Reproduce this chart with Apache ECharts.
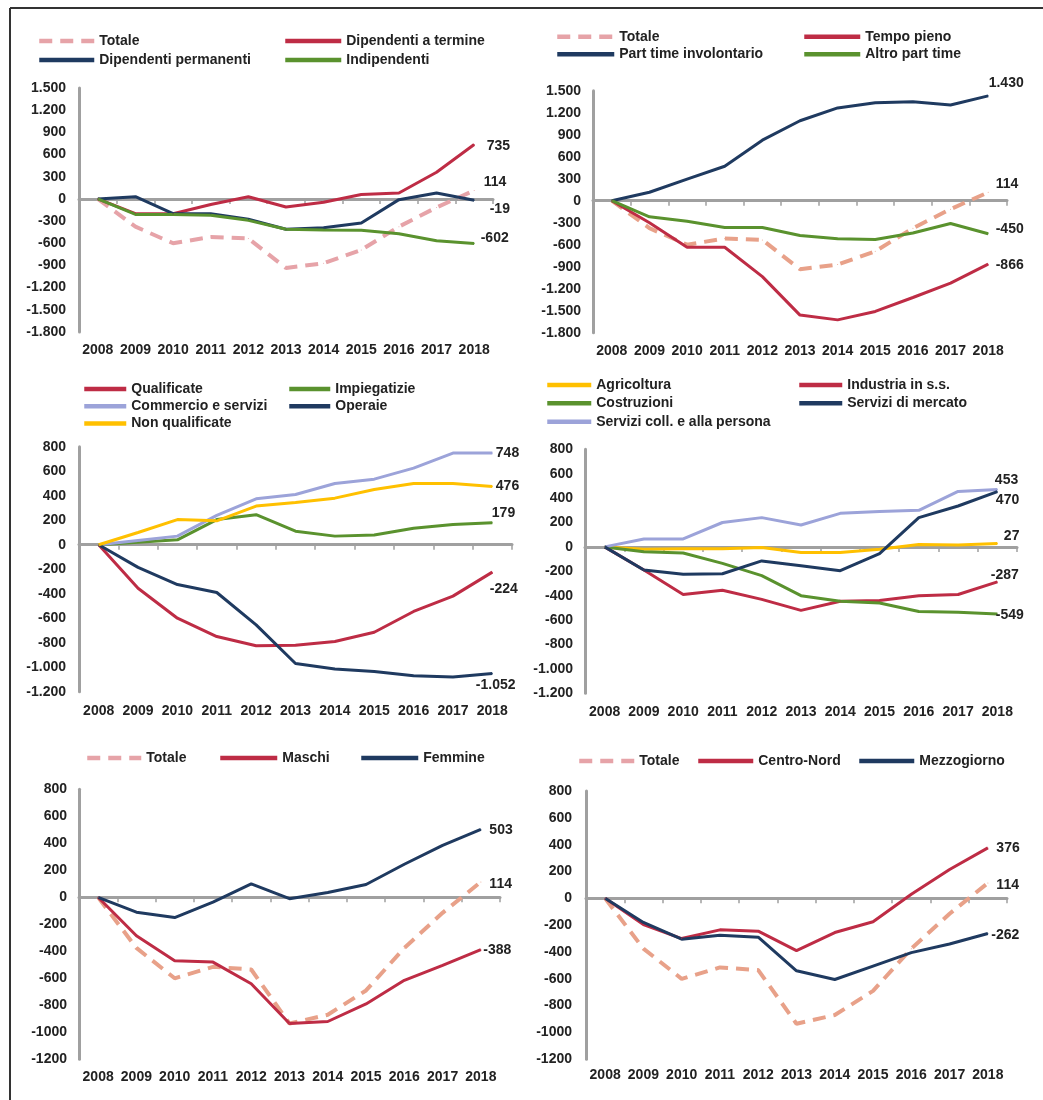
<!DOCTYPE html>
<html><head><meta charset="utf-8">
<script src="https://cdn.jsdelivr.net/npm/echarts@6/dist/echarts.min.js"></script>
<style>html,body{margin:0;padding:0;background:#fff}#c{width:1043px;height:1100px}</style>
</head><body><div id="c"></div>
<script>
// ---- data ----
const years = ['2008','2009','2010','2011','2012','2013','2014','2015','2016','2017','2018'];
const totale = [0, -375, -600, -515, -535, -935, -870, -690, -375, -115, 114];
// panel 1
const dipTermine = [0, -200, -200, -75, 30, -110, -45, 60, 80, 360, 735];
const dipPermanenti = [0, 30, -200, -200, -275, -410, -390, -325, -10, 80, -19];
const indipendenti = [0, -210, -210, -220, -290, -410, -420, -425, -470, -565, -602];
// panel 2
const tempoPieno = [0, -300, -635, -635, -1035, -1560, -1625, -1510, -1320, -1125, -866];
const partTimeInvol = [0, 115, 295, 470, 825, 1090, 1265, 1335, 1350, 1305, 1430];
const altroPartTime = [0, -220, -280, -365, -365, -475, -520, -530, -440, -310, -450];
// panel 3
const qualificate = [0, -355, -600, -750, -825, -820, -790, -715, -545, -420, -224];
const impiegatizie = [0, 20, 40, 205, 245, 110, 70, 80, 135, 165, 179];
const commercioServizi = [0, 35, 70, 240, 375, 410, 500, 535, 625, 748, 748];
const operaie = [0, -185, -325, -390, -655, -970, -1015, -1035, -1070, -1080, -1052];
const nonQualificate = [0, 100, 205, 195, 315, 345, 380, 450, 500, 500, 476];
// panel 4
const agricoltura = [0, -20, -15, -15, -5, -45, -45, -20, 20, 15, 27];
const industria = [0, -190, -390, -355, -430, -520, -445, -440, -400, -390, -287];
const costruzioni = [0, -40, -50, -135, -235, -400, -445, -460, -530, -535, -549];
const serviziMercato = [0, -190, -225, -220, -115, -155, -195, -55, 240, 335, 453];
const serviziColl = [0, 65, 65, 200, 240, 180, 275, 290, 300, 455, 470];
// panel 5
const maschi = [0, -285, -470, -480, -640, -935, -920, -790, -615, -505, -388];
const femmine = [0, -110, -150, -35, 100, -10, 35, 95, 245, 385, 503];
// panel 6
const centroNord = [0, -195, -300, -235, -245, -390, -255, -175, 30, 215, 376];
const mezzogiorno = [0, -180, -305, -275, -290, -540, -605, -505, -405, -340, -262];

// ---- styles ----
const C = {red:'#be2c45', navy:'#1f3a60', green:'#5a922e', lav:'#9ca3d9', yel:'#ffc000', salmon:'#e8a189', pink:'#e6a3a8', axis:'#a0a0a0'};
const FONT = "'Liberation Sans', Arial, sans-serif";
const TXT = {fontFamily: FONT, fontSize: 14, fontWeight: 'bold', color: '#222'};
const fmtDot = v => (v < 0 ? '-' : '') + Math.abs(v).toString().replace(/\B(?=(\d{3})+(?!\d))/g, '.');
const fmtPlain = v => String(v);

const panels = [
  {grid:{left:79, top:88, width:414, height:244}, min:-1800, max:1500, iv:300, fmt:fmtDot, ym:13, xm:11},
  {grid:{left:593, top:90.7, width:414, height:242}, min:-1800, max:1500, iv:300, fmt:fmtDot, ym:12, xm:11},
  {grid:{left:79, top:446.7, width:433, height:245}, min:-1200, max:800, iv:200, fmt:fmtDot, ym:13, xm:12},
  {grid:{left:585, top:449.3, width:432, height:244}, min:-1200, max:800, iv:200, fmt:fmtDot, ym:12, xm:12},
  {grid:{left:79, top:789.3, width:421, height:270}, min:-1200, max:800, iv:200, fmt:fmtPlain, ym:12, xm:11},
  {grid:{left:586, top:791, width:421, height:268.3}, min:-1200, max:800, iv:200, fmt:fmtPlain, ym:14, xm:9}
];

const grid = [], xAxis = [], yAxis = [], series = [], legend = [];
panels.forEach((p, i) => {
  grid.push(Object.assign({containLabel:false}, p.grid));
  xAxis.push({type:'category', data:years, gridIndex:i, position:'bottom', boundaryGap:true,
    axisLine:{show:false}, axisTick:{show:false},
    axisLabel:Object.assign({interval:0, margin:p.xm}, TXT)});
  xAxis.push({type:'category', data:years, gridIndex:i, position:'top', boundaryGap:true,
    axisLine:{show:true, onZero:true, onZeroAxisIndex:i, lineStyle:{color:C.axis, width:3}},
    axisTick:{show:true, inside:true, length:5, lineStyle:{color:C.axis, width:1.5}},
    axisLabel:{show:false}});
  yAxis.push({type:'value', gridIndex:i, min:p.min, max:p.max, interval:p.iv,
    axisLine:{show:true, lineStyle:{color:C.axis, width:3}}, axisTick:{show:false}, splitLine:{show:false},
    axisLabel:Object.assign({margin:p.ym, formatter:p.fmt}, TXT)});
});

function line(pi, name, values, color, lab, dashed) {
  const last = values.length - 1;
  const fmt = panels[pi].fmt;
  series.push({
    type:'line', name, xAxisIndex:pi*2, yAxisIndex:pi, symbol:'circle', symbolSize:1, showSymbol:true,
    lineStyle:{color, width: dashed ? 4 : 3, type: dashed ? [13, 8] : 'solid', cap:'butt'},
    itemStyle:{color}, emphasis:{disabled:true}, silent:true,
    data: values.map((v, j) => j === last ? {value:v, label:Object.assign({show:true, position:'right', distance:0,
      offset:[lab[0], lab[1]], formatter: () => fmt(v)}, TXT)} : v)
  });
}
function lg(left, top, names, w, gap, orient) {
  legend.push({left, top, orient: orient || 'vertical', padding:0, itemGap: gap || 0, itemWidth:w, itemHeight:14,
    data:names, selectedMode:false, itemStyle:{opacity:0}, lineStyle:{width:4.5},
    textStyle:Object.assign({lineHeight:14}, TXT)});
}

// panel 1
line(0, 'Totale', totale, C.pink, [9, -8], true);
line(0, 'Dipendenti a termine', dipTermine, C.red, [12, 2]);
line(0, 'Dipendenti permanenti', dipPermanenti, C.navy, [15, 9]);
line(0, 'Indipendenti', indipendenti, C.green, [6, -5]);
lg(37, 34, ['Totale', 'Dipendenti permanenti'], 55, 5);
lg(283, 34, ['Dipendenti a termine', 'Indipendenti'], 56, 5);
// panel 2
line(1, 'Totale', totale, C.salmon, [7, -8], true);
line(1, 'Tempo pieno', tempoPieno, C.red, [7, 1]);
line(1, 'Part time involontario', partTimeInvol, C.navy, [0, -13]);
line(1, 'Altro part time', altroPartTime, C.green, [7, -5]);
lg(555, 29.7, ['Totale', 'Part time involontario'], 57, 3.6);
lg(802, 29.7, ['Tempo pieno', 'Altro part time'], 56, 3.6);
// panel 3
line(2, 'Qualificate', qualificate, C.red, [-3, 17]);
line(2, 'Impiegatizie', impiegatizie, C.green, [-1, -10]);
line(2, 'Commercio e servizi', commercioServizi, C.lav, [3, 0]);
line(2, 'Operaie', operaie, C.navy, [-17, 12]);
line(2, 'Non qualificate', nonQualificate, C.yel, [3, 0]);
lg(82, 382, ['Qualificate', 'Commercio e servizi', 'Non qualificate'], 42, 3.2);
lg(287, 382, ['Impiegatizie', 'Operaie'], 41, 3.2);
// panel 4
line(3, 'Agricoltura', agricoltura, C.yel, [6, -7]);
line(3, 'Industria in s.s.', industria, C.red, [-7, -7]);
line(3, 'Costruzioni', costruzioni, C.green, [-2, 1]);
line(3, 'Servizi coll. e alla persona', serviziColl, C.lav, [-2, 11]);
line(3, 'Servizi di mercato', serviziMercato, C.navy, [-3, -11]);
lg(545, 378, ['Agricoltura', 'Costruzioni', 'Servizi coll. e alla persona'], 44, 4.35);
lg(797, 378, ['Industria in s.s.', 'Servizi di mercato'], 43, 4.35);
// panel 5
line(4, 'Totale', totale, C.salmon, [8, 2], true);
line(4, 'Maschi', maschi, C.red, [2, 0]);
line(4, 'Femmine', femmine, C.navy, [8, 1]);
lg(85, 751, ['Totale'], 54);
lg(218, 751, ['Maschi'], 57);
lg(359, 751, ['Femmine'], 57);
// panel 6
line(5, 'Totale', totale, C.salmon, [8, 2], true);
line(5, 'Centro-Nord', centroNord, C.red, [8, 0]);
line(5, 'Mezzogiorno', mezzogiorno, C.navy, [3, 2]);
lg(577, 754, ['Totale'], 55);
lg(696, 754, ['Centro-Nord'], 55);
lg(857, 754, ['Mezzogiorno'], 55);

const chart = echarts.init(document.getElementById('c'), null, {renderer:'canvas'});
chart.setOption({
  backgroundColor:'#fff', animation:false,
  textStyle:{fontFamily:FONT},
  grid, xAxis, yAxis, series, legend,
  graphic:[
    {type:'line', shape:{x1:10, y1:8, x2:1043, y2:8}, style:{stroke:'#333', lineWidth:2}, silent:true},
    {type:'line', shape:{x1:10, y1:8, x2:10, y2:1100}, style:{stroke:'#333', lineWidth:2}, silent:true}
  ]
});
</script></body></html>
